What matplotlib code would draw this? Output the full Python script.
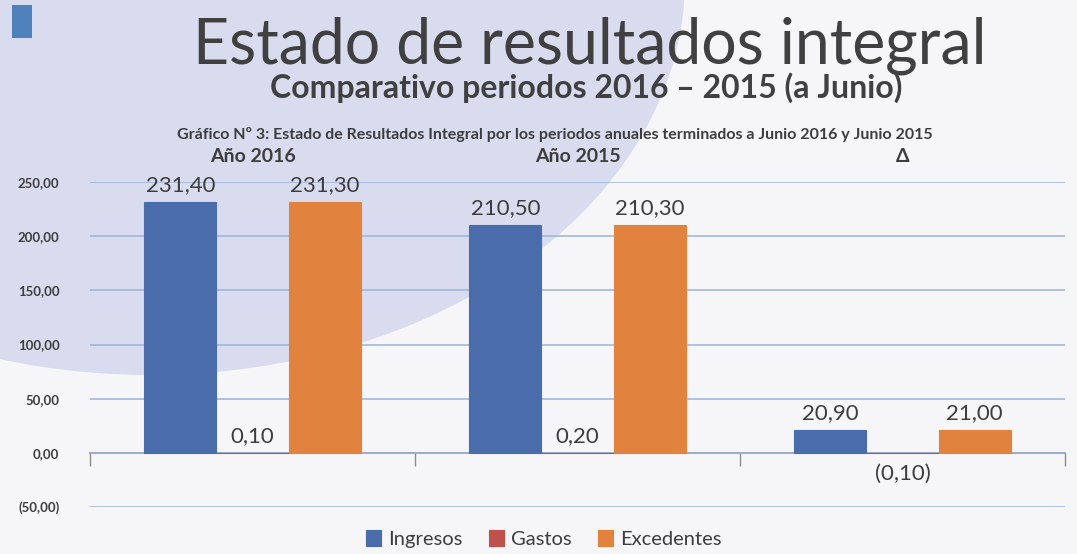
import matplotlib
matplotlib.use("Agg")
import matplotlib.pyplot as plt
from matplotlib.patches import Ellipse, Rectangle
from matplotlib.ticker import FuncFormatter
import numpy as np

plt.rcParams['font.family'] = ['Lato', 'DejaVu Sans']

categories = ["Año 2016", "Año 2015", "Δ"]
series_names = ["Ingresos", "Gastos", "Excedentes"]
ingresos = [231.40, 210.50, 20.90]
gastos = [0.10, 0.20, -0.10]
excedentes = [231.30, 210.30, 21.00]
yticks = [-50, 0, 50, 100, 150, 200, 250]

colors = ["#4a6caa", "#c0504d", "#e2823f"]
text_col = "#3d3d3d"

def fmt(v):
    s = f"{abs(v):,.2f}".replace(",", "X").replace(".", ",").replace("X", ".")
    return f"({s})" if v < 0 else s

fig = plt.figure(figsize=(10.77, 5.54), dpi=100)
fig.patch.set_facecolor("#f6f6f8")

# slide background decoration
fig.patches.append(Ellipse((150 / 1077, 1 + 20 / 554), 1070 / 1077, 790 / 554,
                           transform=fig.transFigure, facecolor="#d8dcee",
                           edgecolor="none", zorder=-5))
fig.patches.append(Rectangle((12 / 1077, 1 - 38 / 554), 20 / 1077, 33 / 554,
                             transform=fig.transFigure, facecolor="#4f81bd",
                             edgecolor="none", zorder=-4))

fig.text(0.548, 0.918, "Estado de resultados integral", ha="center", va="center",
         fontsize=45, color="#404040")
fig.text(0.544, 0.842, "Comparativo periodos 2016 – 2015 (a Junio)", ha="center",
         va="center", fontsize=23, color="#404040", fontweight="bold")
fig.text(0.515, 0.758,
         "Gráfico Nº 3: Estado de Resultados Integral por los periodos anuales terminados a Junio 2016 y Junio 2015",
         ha="center", va="center", fontsize=11.5, color=text_col, fontweight="bold")

ax = fig.add_axes([90 / 1077, 47 / 554, 975 / 1077, 325 / 554])
ax.set_facecolor("none")

x = np.arange(len(categories))
w = 0.222
offs = [-0.222, 0.0, 0.222]
data = [ingresos, gastos, excedentes]
for vals, off, c, name in zip(data, offs, colors, series_names):
    ax.bar(x + off, vals, width=w, color=c, label=name, zorder=3,
           edgecolor=c, linewidth=0.8)
    for xi, v in zip(x + off, vals):
        ax.annotate(fmt(v), (xi, v), xytext=(0, 5 if v >= 0 else -8),
                    textcoords="offset points", ha="center",
                    va="bottom" if v >= 0 else "top",
                    fontsize=16, color=text_col, zorder=4)

ax.set_xlim(-0.5, 2.5)
ax.set_ylim(-50, 250)
ax.set_yticks(yticks)
ax.yaxis.set_major_formatter(FuncFormatter(lambda v, p: fmt(v)))
ax.tick_params(axis="y", length=0, pad=22, labelsize=9.5, labelcolor=text_col)
for lab in ax.get_yticklabels():
    lab.set_fontweight("bold")
ax.yaxis.grid(True, color="#9db2d8", lw=1.1, zorder=1)
ax.set_axisbelow(True)
for s in ax.spines.values():
    s.set_visible(False)

# category labels on top
ax.set_xticks(x)
ax.set_xticklabels(categories, fontsize=14, fontweight="bold", color=text_col)
ax.xaxis.set_ticks_position("top")
ax.tick_params(axis="x", length=0, pad=12)

# zero axis with category separator ticks
sec = ax.secondary_xaxis(50 / 300)
sec.set_xticks([-0.5, 0.5, 1.5, 2.5])
sec.set_xticklabels([])
sec.tick_params(axis="x", direction="out", length=9, color="#8c8c8c", width=1)
sec.spines["bottom"].set_color("#8c8c8c")
sec.spines["bottom"].set_linewidth(1.2)

fig.legend(loc="lower center", bbox_to_anchor=(0.505, -0.022), ncol=3,
           frameon=False, fontsize=14.5, handlelength=0.75, handleheight=0.9,
           columnspacing=1.3, handletextpad=0.35, labelcolor=text_col)

fig.savefig("out.png", dpi=100, facecolor=fig.get_facecolor())
